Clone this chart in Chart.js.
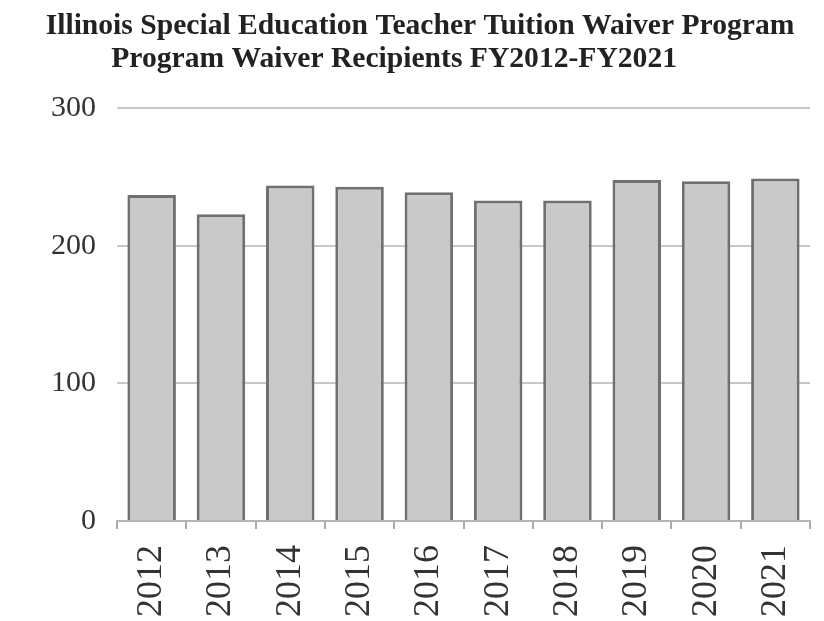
<!DOCTYPE html>
<html>
<head>
<meta charset="utf-8">
<script src="https://cdn.jsdelivr.net/npm/chart.js@4/dist/chart.umd.min.js"></script>
<style>
  html, body { margin: 0; padding: 0; background: #fff; }
  #wrap { width: 824px; height: 621px; }
</style>
</head>
<body>
<div id="wrap"><canvas id="graph" width="824" height="621"></canvas></div>
<script>
// fiscal years and waiver recipients
var years = ["2012", "2013", "2014", "2015", "2016", "2017", "2018", "2019", "2020", "2021"];
var recipients = [237, 223, 244, 243, 239, 233, 233, 248, 247, 249];
var yTicks = [0, 100, 200, 300];
var titleLines = [
  "Illinois Special Education Teacher Tuition Waiver Program",
  "Program Waiver Recipients FY2012-FY2021       " // trailing spaces push line 2 left like the original
];

var serif = "'Liberation Serif', 'DejaVu Serif', serif";

var ctx = document.getElementById("graph").getContext("2d");
var chart = new Chart(ctx, {
  type: "bar",
  data: {
    labels: years,
    datasets: [{
      label: "Recipients",
      data: recipients,
      backgroundColor: "#c9c9c9",
      borderColor: "#707070",
      borderWidth: 3,
      borderSkipped: "bottom",
      categoryPercentage: 1.0,
      barPercentage: 0.7
    }]
  },
  options: {
    responsive: false,
    animation: false,
    layout: { padding: { left: 30, right: 14, top: 2, bottom: -12 } },
    plugins: {
      legend: { display: false },
      tooltip: { enabled: false },
      title: {
        display: true,
        text: titleLines,
        color: "#222",
        font: { family: serif, size: 29.6, weight: "bold", lineHeight: 1.14 },
        padding: { top: 7, bottom: 32 }
      }
    },
    scales: {
      x: {
        grid: {
          display: true,
          offset: true,
          drawOnChartArea: false,
          drawTicks: true,
          tickLength: 8,
          color: "#aaa",
          lineWidth: 2
        },
        border: { display: true, color: "#b5b5b5", width: 2 },
        ticks: {
          color: "#333",
          font: { family: serif, size: 36, lineHeight: 0.6 },
          minRotation: 90,
          maxRotation: 90,
          padding: 16
        }
      },
      y: {
        min: 0,
        max: 300,
        afterBuildTicks: function(axis) {
          axis.ticks = yTicks.map(function(v) { return { value: v }; });
        },
        grid: {
          color: "#c8c8c8",
          lineWidth: 2,
          drawTicks: false
        },
        border: { display: false },
        ticks: {
          color: "#333",
          font: { family: serif, size: 30 },
          padding: 21
        }
      }
    }
  }
});
</script>
</body>
</html>
